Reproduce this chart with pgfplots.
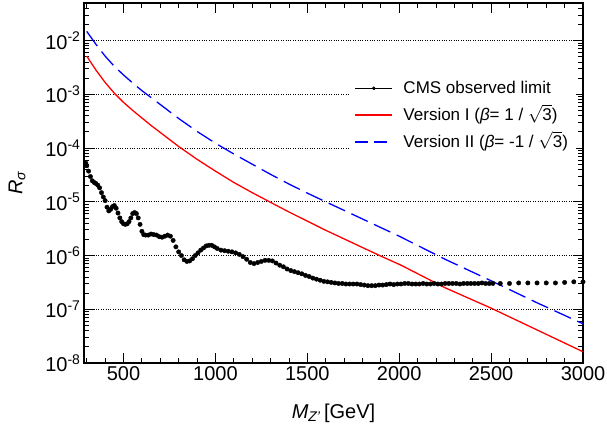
\documentclass[border=0pt]{standalone}
\usepackage{fontspec}
\setmainfont{Liberation Sans}
\usepackage{pgfplots}
\pgfplotsset{compat=1.18}

\begin{document}
\begin{tikzpicture}
\useasboundingbox (-84pt,-71pt) rectangle (523pt,363pt);
\begin{axis}[
  scale only axis, width=499pt, height=360pt,
  ymode=log, log basis y=10,
  xmin=285, xmax=3000, ymin=1e-8, ymax=5e-2,
  xtick={500,1000,...,3000}, minor xtick={300,400,...,2900},
  ytick={1e-8,1e-7,1e-6,1e-5,1e-4,1e-3,1e-2},
  minor ytick={2e-8,3e-8,4e-8,5e-8,6e-8,7e-8,8e-8,9e-8,
    2e-7,3e-7,4e-7,5e-7,6e-7,7e-7,8e-7,9e-7,
    2e-6,3e-6,4e-6,5e-6,6e-6,7e-6,8e-6,9e-6,
    2e-5,3e-5,4e-5,5e-5,6e-5,7e-5,8e-5,9e-5,
    2e-4,3e-4,4e-4,5e-4,6e-4,7e-4,8e-4,9e-4,
    2e-3,3e-3,4e-3,5e-3,6e-3,7e-3,8e-3,9e-3,
    2e-2,3e-2,4e-2},
  tick align=inside, tick pos=both,
  major tick length=10pt, minor tick length=5pt,
  tick style={black, line width=0.8pt},
  axis line style={line width=1.5pt},
  ymajorgrids, major grid style={black, line width=0.7pt, dash pattern=on 0.8pt off 1.6pt},
  scaled x ticks=false,
  /pgf/number format/1000 sep={},
  /pgf/number format/assume math mode=true,
  ticklabel style={font=\fontsize{20}{24}\selectfont},
  yticklabel={10\textsuperscript{\pgfmathparse{int(round(\tick))}\pgfmathresult}},
  xlabel={\textit{M}\textsubscript{\textit{Z'}}\,[GeV]},
  ylabel={\textit{R}\textsubscript{\textit{σ}}},
  label style={font=\fontsize{20}{24}\selectfont},
  xlabel style={at={(axis description cs:0.5,0)}, anchor=center, yshift=-50pt},
  ylabel style={at={(axis description cs:-0.134,0.5)}, anchor=center},
  legend style={draw=none, fill=white, at={(rel axis cs:0.53,0.805)}, anchor=north west,
    font=\fontsize{17}{20}\selectfont, row sep=9pt, inner xsep=6pt, inner ysep=6pt},
  legend cell align=left,
]
\addplot[only marks, mark=*, mark size=2.2pt, black,
  legend image code/.code={\draw[black, line width=0.8pt] (0cm,0cm) -- (1.3cm,0cm);
    \fill[black] (0.65cm,0cm) circle (1.6pt); \path (1.6cm,0cm);}]
coordinates {
(295,5.25e-5)(300,4.68e-5)(310,3.72e-5)(320,2.95e-5)(330,2.46e-5)(340,2.29e-5)
(350,2.19e-5)(360,2.04e-5)(370,1.82e-5)(380,1.48e-5)(390,1.23e-5)(400,1.05e-5)
(410,7.94e-6)(420,6.76e-6)(430,7.24e-6)(440,8.13e-6)(450,8.51e-6)(460,7.59e-6)
(470,6.17e-6)(480,5.01e-6)(490,4.27e-6)(500,3.89e-6)(510,3.80e-6)(520,3.89e-6)
(530,4.27e-6)(540,5.01e-6)(550,6.03e-6)(560,6.31e-6)(570,6.03e-6)(580,5.01e-6)
(590,3.80e-6)(600,2.82e-6)(610,2.45e-6)(620,2.40e-6)(635,2.40e-6)(650,2.51e-6)
(665,2.45e-6)(680,2.40e-6)(695,2.24e-6)(710,2.19e-6)(725,2.29e-6)(740,2.40e-6)
(755,2.29e-6)(770,1.91e-6)(785,1.45e-6)(800,1.17e-6)(815,1.00e-6)(830,8.32e-7)
(845,7.76e-7)(860,7.94e-7)(875,8.71e-7)(890,1.00e-6)(905,1.12e-6)(920,1.26e-6)
(935,1.38e-6)(950,1.51e-6)(965,1.55e-6)(980,1.55e-6)(995,1.45e-6)(1010,1.35e-6)
(1030,1.26e-6)(1050,1.23e-6)(1070,1.20e-6)(1090,1.17e-6)(1110,1.12e-6)(1130,1.05e-6)
(1150,9.55e-7)(1170,8.51e-7)(1190,7.41e-7)(1210,7.08e-7)(1230,7.41e-7)(1250,7.76e-7)
(1270,8.13e-7)(1290,8.13e-7)(1310,7.94e-7)(1330,7.24e-7)(1350,6.61e-7)(1370,6.17e-7)
(1390,5.62e-7)(1410,5.25e-7)(1430,5.01e-7)(1450,4.79e-7)(1470,4.57e-7)(1490,4.27e-7)
(1510,4.07e-7)(1530,3.80e-7)(1550,3.63e-7)(1570,3.47e-7)(1590,3.31e-7)(1610,3.24e-7)
(1630,3.16e-7)(1650,3.09e-7)(1670,3.02e-7)(1690,3.02e-7)(1710,2.95e-7)(1730,2.95e-7)
(1750,2.95e-7)(1770,2.95e-7)(1790,2.88e-7)(1810,2.82e-7)(1830,2.75e-7)(1850,2.75e-7)
(1870,2.75e-7)(1890,2.82e-7)(1910,2.82e-7)(1930,2.88e-7)(1950,2.95e-7)(1970,2.88e-7)
(1990,2.95e-7)(2010,2.95e-7)(2030,3.02e-7)(2050,3.02e-7)(2070,2.95e-7)(2090,2.95e-7)
(2110,2.95e-7)(2130,3.02e-7)(2150,2.95e-7)(2170,2.95e-7)(2190,3.02e-7)(2210,2.95e-7)
(2230,2.95e-7)(2250,3.02e-7)(2270,3.02e-7)(2290,3.02e-7)(2310,3.02e-7)(2330,2.95e-7)
(2350,3.02e-7)(2370,3.02e-7)(2390,3.02e-7)(2410,3.02e-7)(2430,3.02e-7)(2450,3.09e-7)
(2470,3.02e-7)(2490,3.02e-7)(2510,3.02e-7)(2550,3.02e-7)(2600,3.02e-7)(2650,3.09e-7)
(2700,3.09e-7)(2750,3.09e-7)(2800,3.09e-7)(2850,3.09e-7)(2900,3.16e-7)(2950,3.24e-7)
(3000,3.24e-7)
};
\addlegendentry{CMS observed limit}
\addplot[red, line width=1.3pt,
  legend image code/.code={\draw[red, line width=1.3pt] (0cm,0cm) -- (1.3cm,0cm);
    \path (1.6cm,0cm);}]
coordinates {
(300,5.13e-3)(350,2.82e-3)(400,1.66e-3)(450,1.05e-3)(500,7.08e-4)(550,5.01e-4)
(600,3.63e-4)(650,2.63e-4)(700,1.95e-4)(800,1.07e-4)(900,6.17e-5)(1000,3.72e-5)
(1100,2.29e-5)(1200,1.48e-5)(1300,9.77e-6)(1400,6.46e-6)(1500,4.37e-6)(1600,2.95e-6)
(1700,2.04e-6)(1800,1.41e-6)(1900,9.77e-7)(2010,6.61e-7)(2250,2.51e-7)(2500,1.05e-7)
(3000,1.62e-8)
};
\addlegendentry{Version I (\textit{β}= 1 / \smash{$\sqrt{\mbox{3}}$})}
\addplot[blue, line width=1.3pt, dash pattern=on 18pt off 7pt,
  legend image code/.code={\draw[blue, line width=1.3pt, dash pattern=on 13pt off 6pt]
    (0cm,0cm) -- (1.3cm,0cm); \path (1.6cm,0cm);}]
coordinates {
(300,1.48e-2)(350,8.51e-3)(400,5.13e-3)(450,3.31e-3)(500,2.29e-3)(550,1.62e-3)
(600,1.17e-3)(650,8.71e-4)(700,6.46e-4)(800,3.55e-4)(900,2.04e-4)(1000,1.23e-4)
(1100,7.76e-5)(1200,5.01e-5)(1300,3.24e-5)(1400,2.14e-5)(1500,1.45e-5)(1600,1.00e-5)
(1700,6.92e-6)(1800,4.79e-6)(1900,3.31e-6)(2000,2.29e-6)(2250,8.51e-7)(2500,3.39e-7)
(2750,1.32e-7)(3000,5.37e-8)
};
\addlegendentry{Version II (\textit{β}= -1 / \smash{$\sqrt{\mbox{3}}$})}
\end{axis}
\end{tikzpicture}
\end{document}
